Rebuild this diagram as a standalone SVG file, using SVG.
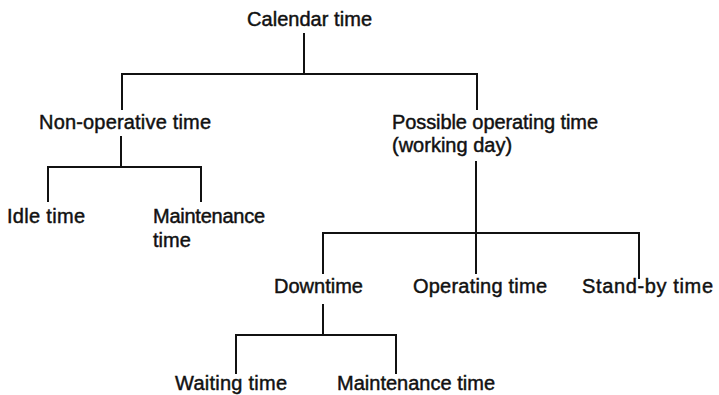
<svg xmlns="http://www.w3.org/2000/svg" width="719" height="395" viewBox="0 0 719 395">
  <style>
    .lbl { font-family: "Liberation Sans", Arial, sans-serif; font-size: 20px; fill: #111; stroke: #111; stroke-width: 0.45; }
    .ln { stroke: #111; stroke-width: 2; fill: none; stroke-linecap: square; }
  </style>
  <rect width="719" height="395" fill="#fff"/>

  <g id="connectors">
    <!-- calendar time split -->
    <path class="ln" d="M304,34 V74 M122,109 V74 H477 V109"/>
    <!-- non-operative time split -->
    <path class="ln" d="M121,137 V167 M48,201 V167 H201 V201"/>
    <!-- possible operating time split -->
    <path class="ln" d="M476,162 V273 M323,273 V233 H639 V278"/>
    <!-- downtime split -->
    <path class="ln" d="M323,305 V335 M236,373 V335 H396 V373"/>
  </g>

  <g id="calendar"><text class="lbl" x="247" y="26" textLength="125">Calendar time</text></g>
  <g id="non-operative"><text class="lbl" x="39" y="129" textLength="172">Non-operative time</text></g>
  <g id="possible-operating">
    <text class="lbl" x="392" y="129" textLength="206">Possible operating time</text>
    <text class="lbl" x="392" y="152">(working day)</text>
  </g>
  <g id="idle"><text class="lbl" x="7" y="223" textLength="78">Idle time</text></g>
  <g id="maintenance-1">
    <text class="lbl" x="153" y="223" textLength="112">Maintenance</text>
    <text class="lbl" x="153" y="247">time</text>
  </g>
  <g id="downtime"><text class="lbl" x="274" y="293">Downtime</text></g>
  <g id="operating"><text class="lbl" x="413" y="293" textLength="134">Operating time</text></g>
  <g id="stand-by"><text class="lbl" x="582" y="293" textLength="131">Stand-by time</text></g>
  <g id="waiting"><text class="lbl" x="175" y="390" textLength="112">Waiting time</text></g>
  <g id="maintenance-2"><text class="lbl" x="337" y="390" textLength="158">Maintenance time</text></g>
</svg>
